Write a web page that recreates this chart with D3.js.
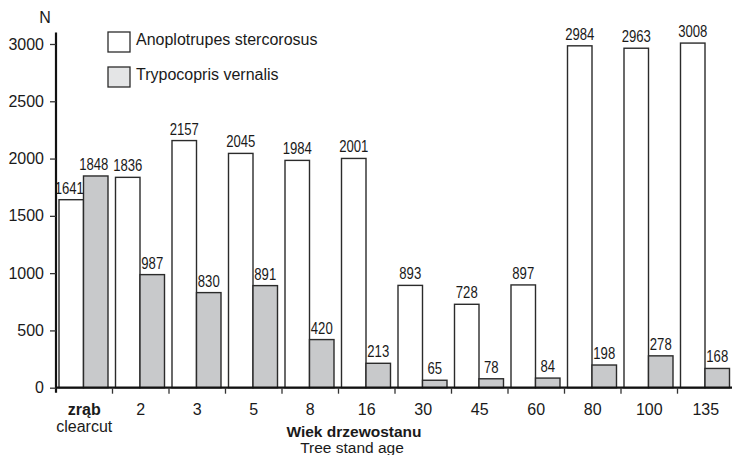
<!DOCTYPE html>
<html>
<head>
<meta charset="utf-8">
<script src="https://cdn.jsdelivr.net/npm/d3@7/dist/d3.min.js"></script>
<style>
  body { margin: 0; background: #fff; }
  svg text { font-family: "Liberation Sans", Arial, sans-serif; fill: #1a1a1a; }
  .val { font-family: "Liberation Sans", Arial, sans-serif; font-size: 16px; }
</style>
</head>
<body>
<div id="chart"></div>
<script>
var categories = ["zrąb", "2", "3", "5", "8", "16", "30", "45", "60", "80", "100", "135"];
var seriesNames = ["Anoplotrupes stercorosus", "Trypocopris vernalis"];
var anoplotrupes = [1641, 1836, 2157, 2045, 1984, 2001, 893, 728, 897, 2984, 2963, 3008];
var trypocopris = [1848, 987, 830, 891, 420, 213, 65, 78, 84, 198, 278, 168];
var yTicks = [0, 500, 1000, 1500, 2000, 2500, 3000];

var W = 732, H = 455;
var colors = ["#ffffff", "#c8c9cb"];
var legendColors = ["#ffffff", "#e4e5e6"];

var svg = d3.select("#chart").append("svg")
    .attr("width", W)
    .attr("height", H);

var x0 = d3.scaleBand()
    .domain(categories)
    .range([56, 734])
    .padding(0);
var x1 = d3.scaleBand()
    .domain(seriesNames)
    .range([3, 52]);
var y = d3.scaleLinear()
    .domain([0, 3100])
    .range([387.7, 387.7 - 0.11457 * 3100]);

var data = categories.map(function(c, i) {
    return {cat: c, values: [
        {name: seriesNames[0], v: anoplotrupes[i], k: 0, g: i},
        {name: seriesNames[1], v: trypocopris[i], k: 1, g: i}
    ]};
});

// bars
var groups = svg.selectAll(".grp")
    .data(data)
    .enter().append("g")
    .attr("transform", function(d) { return "translate(" + x0(d.cat) + ",0)"; });

groups.selectAll("rect")
    .data(function(d) { return d.values; })
    .enter().append("rect")
    .attr("x", function(d) { return x1(d.name); })
    .attr("width", x1.bandwidth())
    .attr("y", function(d) { return y(d.v); })
    .attr("height", function(d) { return y(0) - y(d.v); })
    .attr("fill", function(d) { return colors[d.k]; })
    .attr("stroke", "#2b2b2b")
    .attr("stroke-width", 1.4);

// value labels, condensed like the original
groups.selectAll(".val")
    .data(function(d) { return d.values; })
    .enter().append("text")
    .attr("class", "val")
    .attr("transform", function(d) {
        var cx = x1(d.name) + x1.bandwidth() / 2 - (d.g === 0 ? 2 : 0);
        return "translate(" + cx + "," + (y(d.v) - 6) + ") scale(0.82,1)";
    })
    .attr("text-anchor", "middle")
    .text(function(d) { return d.v; });

// y axis
var yAxis = svg.append("g")
    .attr("transform", "translate(56,0)")
    .call(d3.axisLeft(y).tickValues(yTicks).tickSize(6).tickPadding(6).tickFormat(d3.format("d")));
yAxis.select(".domain").attr("stroke", "#111").attr("stroke-width", 2.2)
    .attr("d", "M0," + y(3100) + "V" + (y(0) + 5));
yAxis.selectAll(".tick line").attr("stroke", "#333").attr("stroke-width", 1.3);
yAxis.selectAll(".tick text")
    .style("font-size", "16px")
    .style("font-family", "'Liberation Sans', Arial, sans-serif")
    .attr("fill", "#1a1a1a");

// x axis line and boundary ticks
svg.append("line")
    .attr("x1", 56).attr("x2", W)
    .attr("y1", y(0)).attr("y2", y(0))
    .attr("stroke", "#111").attr("stroke-width", 2.2);

svg.selectAll(".xtick")
    .data(categories)
    .enter().append("line")
    .attr("x1", function(d) { return x0(d) + x0.bandwidth(); })
    .attr("x2", function(d) { return x0(d) + x0.bandwidth(); })
    .attr("y1", y(0))
    .attr("y2", y(0) + 6)
    .attr("stroke", "#333").attr("stroke-width", 1.3);

svg.selectAll(".xlab")
    .data(categories)
    .enter().append("text")
    .attr("x", function(d) { return x0(d) + x0.bandwidth() / 2; })
    .attr("y", 415)
    .attr("text-anchor", "middle")
    .style("font-size", "16px")
    .style("font-weight", function(d, i) { return i === 0 ? "bold" : "normal"; })
    .text(function(d) { return d; });

svg.append("text")
    .attr("x", x0(categories[0]) + x0.bandwidth() / 2)
    .attr("y", 432)
    .attr("text-anchor", "middle")
    .style("font-size", "16px")
    .text("clearcut");

// axis titles
svg.append("text")
    .attr("x", 354).attr("y", 436.7)
    .attr("text-anchor", "middle")
    .style("font-size", "15.5px").style("font-weight", "bold")
    .text("Wiek drzewostanu");
svg.append("text")
    .attr("x", 352).attr("y", 452.5)
    .attr("text-anchor", "middle")
    .style("font-size", "15.5px")
    .text("Tree stand age");
svg.append("text")
    .attr("x", 45).attr("y", 23)
    .attr("text-anchor", "middle")
    .style("font-size", "16px")
    .text("N");

// legend
var legend = svg.selectAll(".leg")
    .data(seriesNames)
    .enter().append("g")
    .attr("transform", function(d, i) { return "translate(108," + (32 + i * 35) + ")"; });
legend.append("rect")
    .attr("width", 22).attr("height", 20)
    .attr("fill", function(d, i) { return legendColors[i]; })
    .attr("stroke", "#2b2b2b").attr("stroke-width", 1.3);
legend.append("text")
    .attr("x", 28).attr("y", 13)
    .style("font-size", "16px")
    .text(function(d) { return d; });
</script>
</body>
</html>
